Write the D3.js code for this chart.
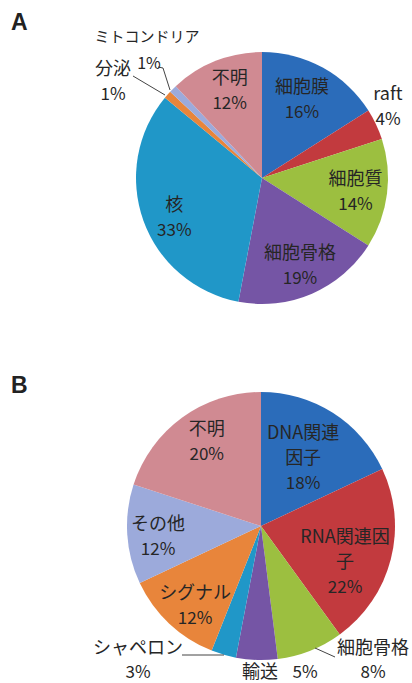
<!DOCTYPE html>
<html>
<head>
<meta charset="utf-8">
<script src="https://cdn.jsdelivr.net/npm/d3@7"></script>
<style>
  body { margin: 0; background: #fff; }
  svg { display: block; }
  text { font-family: "Noto Sans CJK JP", "Noto Sans", sans-serif; fill: #262626; }
</style>
</head>
<body>
<svg id="chart" width="412" height="683"></svg>
<script>
// A: localisation
var categoriesA = ["細胞膜", "raft", "細胞質", "細胞骨格", "核", "分泌", "ミトコンドリア", "不明"];
var valuesA = [16, 4, 14, 19, 33, 1, 1, 12];

// B: function
var categoriesB = ["DNA関連\n因子", "RNA関連因\n子", "細胞骨格", "輸送", "シャペロン", "シグナル", "その他", "不明"];
var valuesB = [18, 22, 8, 5, 3, 12, 12, 20];

var colors = ["#2b6cba", "#c23a3e", "#9cbf40", "#7555a5", "#2097c8", "#e8853b", "#9caadb", "#d08a92"];

var svg = d3.select("#chart");

// panel letters
["A", "B"].forEach(function(t, i) {
  svg.append("text").attr("x", 11).attr("y", i ? 393 : 30).text(t)
     .style("font-family", "'Liberation Sans', Arial, sans-serif")
     .style("font-weight", "bold").style("font-size", "23px").style("fill", "#222");
});

// label layout: nudge from centroid, or offset from centre for outside labels
var layoutA = [
  { dx: -5, dy: 3 },
  { out: [126, -72] },
  { dx: 1, dy: 2 },
  { dx: 1, dy: 2 },
  { dx: 0, dy: 8 },
  { out: [-149, -97], leader: [[-129, -102], [-97, -83]] },
  { out: [-115, -141], pctOut: [-113, -115], leader: [[-104, -111], [-99, -110], [-92, -88]] },
  { dx: 2, dy: -1 }
];
var layoutB = [
  { dx: -11, dy: 16 },
  { dx: -12, dy: 11 },
  { out: [112, 134], lh: 24, leader: [[54, 122], [74, 131]] },
  { inline: [-1, 146] },
  { out: [-123, 134], lh: 24, leader: [[-79, 129], [-37, 129]] },
  { dx: 2, dy: 7 },
  { dx: -4, dy: 4 },
  { dx: 4, dy: -4 }
];

function addText(g, x, y, s, size) {
  g.append("text").attr("x", x).attr("y", y)
   .attr("text-anchor", "middle").style("font-size", size + "px")
   .text(s);
}

function drawPie(cx, cy, R, cats, vals, layout) {
  var g = svg.append("g").attr("transform", "translate(" + cx + "," + cy + ")");
  var pie = d3.pie().sort(null).value(function(d) { return d; });
  var arcs = pie(vals);
  var arc = d3.arc().innerRadius(0).outerRadius(R);
  var labelArc = d3.arc().innerRadius(R * 0.74).outerRadius(R * 0.74);

  g.selectAll("path.slice")
   .data(arcs)
   .enter().append("path")
   .attr("class", "slice")
   .attr("d", arc)
   .attr("fill", function(d, i) { return colors[i]; });

  arcs.forEach(function(d, i) {
    var L = layout[i];
    var lines = cats[i].split("\n");
    var pct = vals[i] + "%";
    var lh = L.lh || 25;
    if (L.leader) {
      g.append("path")
       .attr("d", d3.line()(L.leader))
       .attr("fill", "none").attr("stroke", "#444").attr("stroke-width", 1);
    }
    if (L.inline) {
      addText(g, L.inline[0], L.inline[1] + 6, lines[0], 18);
      addText(g, L.inline[0] + 45, L.inline[1] + 6, pct, 17);
      return;
    }
    if (L.pctOut) {
      addText(g, L.out[0], L.out[1] + 5, lines[0], 15);
      addText(g, L.pctOut[0], L.pctOut[1] + 6, pct, 16);
      return;
    }
    var x, y;
    if (L.out) {
      x = L.out[0]; y = L.out[1];
    } else {
      var c = labelArc.centroid(d);
      x = c[0] + L.dx; y = c[1] + L.dy;
    }
    var n = lines.length + 1;
    var top = y - (n - 1) * lh / 2;
    lines.forEach(function(t, k) {
      addText(g, x, top + k * lh + 6, t, 18);
    });
    addText(g, x, top + lines.length * lh + 6, pct, 17);
  });
}

drawPie(262, 178, 126, categoriesA, valuesA, layoutA);
drawPie(261, 526, 134, categoriesB, valuesB, layoutB);
</script>
</body>
</html>
